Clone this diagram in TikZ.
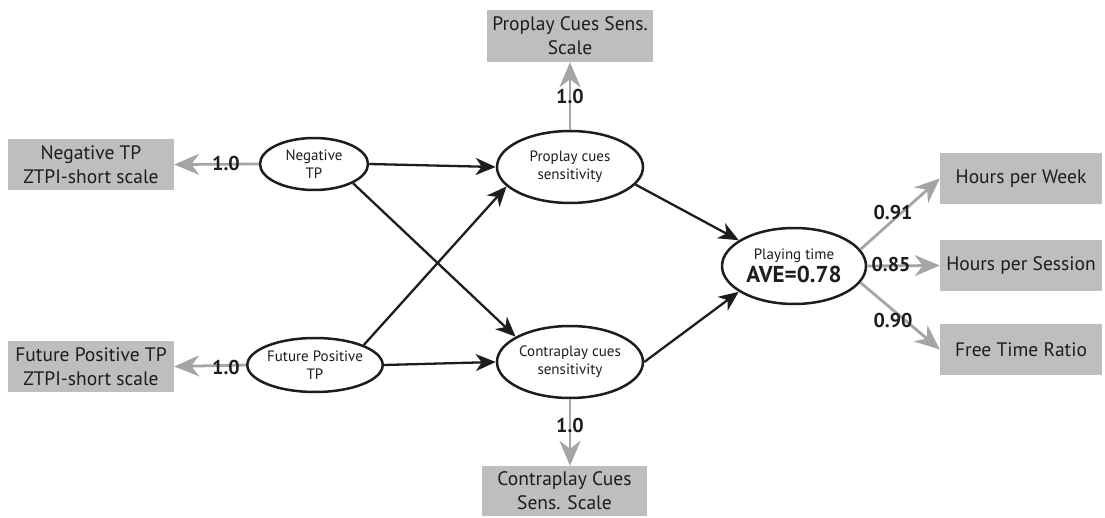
\documentclass[tikz,border=0pt]{standalone}
\usepackage{fontspec}
\setmainfont{PT Sans}
\usetikzlibrary{arrows.meta,shapes.geometric}
\definecolor{boxgrey}{RGB}{190,190,192}
\definecolor{linkgrey}{RGB}{165,165,168}
\definecolor{inkblack}{RGB}{30,28,29}

\begin{document}
\begin{tikzpicture}[x=1pt,y=-1pt,
    latent/.style={ellipse,draw=inkblack,line width=2.5pt,fill=white,inner sep=0pt,
      align=center,text=inkblack,font=\fontsize{15}{18}\selectfont},
    indicator/.style={fill=boxgrey,inner sep=0pt,align=center,text=inkblack,
      font=\fontsize{19.5}{24}\selectfont},
    causal/.style={-{Stealth[length=20pt,width=17pt,inset=6pt]},line width=2.3pt,inkblack},
    loading/.style={-{Stealth[length=25pt,width=21pt,inset=8pt]},line width=2.8pt,linkgrey},
    wt/.style={inner sep=0pt,text=inkblack,font=\bfseries\fontsize{20}{24}\selectfont}]
  \useasboundingbox (0,0) rectangle (1105,518);

  % Indicator boxes
  \node[indicator,minimum width=166pt,minimum height=51pt] (boxNeg) at (91,164.5)
    {Negative TP\\ZTPI-short scale};
  \node[indicator,minimum width=166pt,minimum height=51pt] (boxFut) at (91,366.5)
    {Future Positive TP\\ZTPI-short scale};
  \node[indicator,minimum width=166pt,minimum height=52pt] (boxPro) at (570,36)
    {Proplay Cues Sens.\\Scale};
  \node[indicator,minimum width=165pt,minimum height=50pt] (boxContra) at (564.5,491)
    {Contraplay Cues\\Sens. Scale};
  \node[indicator,minimum width=162pt,minimum height=51pt] (boxWeek) at (1021,178.5)
    {Hours per Week};
  \node[indicator,minimum width=162pt,minimum height=51pt] (boxSession) at (1021,265.5)
    {Hours per Session};
  \node[indicator,minimum width=162pt,minimum height=51pt] (boxRatio) at (1021,349.5)
    {Free Time Ratio};

  % Latent constructs
  \node[latent,minimum width=108pt,minimum height=52pt] (negTP) at (314,164) {Negative\\TP};
  \node[latent,minimum width=112pt,minimum height=54pt] (futTP) at (315,365) {Future Positive\\TP};
  \node[latent,minimum width=146pt,minimum height=72pt] (proplay) at (570,167)
    {Proplay cues\\sensitivity};
  \node[latent,minimum width=146pt,minimum height=72pt] (contra) at (570,362)
    {Contraplay cues\\sensitivity};
  \node[latent,minimum width=144pt,minimum height=76pt] (playtime) at (794,266)
    {Playing time\\[3pt]{\bfseries\fontsize{23}{24}\selectfont AVE=0.78}};

  % Structural paths
  \draw[causal] (negTP.east) -- (proplay.west);
  \draw[causal] (negTP.south east) -- (contra.155);
  \draw[causal] (futTP.north east) -- (proplay.197);
  \draw[causal] (futTP.east) -- (contra.west);
  \draw[causal] (proplay.-15) -- (playtime.155);
  \draw[causal] (contra.east) -- (playtime.205);

  % Loadings
  \draw[loading] (negTP.west) -- (boxNeg.east);
  \draw[loading] (futTP.west) -- (boxFut.east);
  \draw[loading] (proplay.north) -- (boxPro.south);
  \draw[loading] (contra.south) -- (boxContra.north -| contra.south);
  \draw[loading] (playtime.14) -- (boxWeek.west);
  \draw[loading] (playtime.east) -- (boxSession.west);
  \draw[loading] (playtime.-14) -- (boxRatio.west);

  % Loading values
  \node[wt] (wNeg) at (226,164) {1.0};
  \node[wt] (wFut) at (226,367) {1.0};
  \node[wt] (wPro) at (570,97) {1.0};
  \node[wt] (wContra) at (570,425) {1.0};
  \node[wt] (wWeek) at (893,213) {0.91};
  \node[wt] (wSession) at (891,265) {0.85};
  \node[wt] (wRatio) at (893,320) {0.90};
\end{tikzpicture}
\end{document}
